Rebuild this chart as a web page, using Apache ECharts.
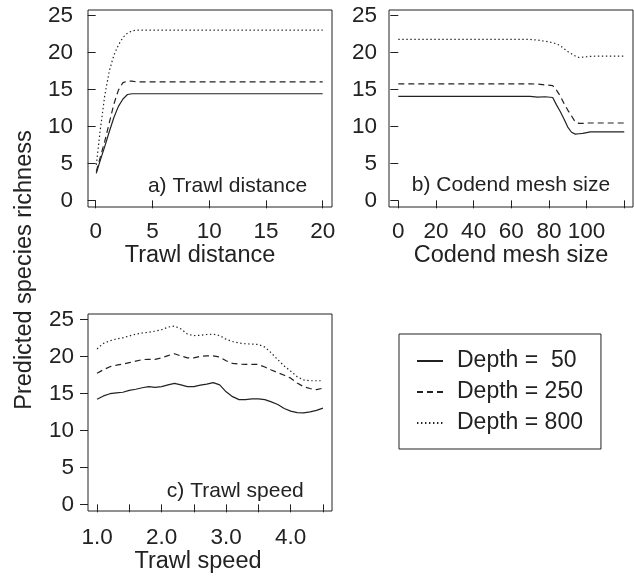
<!DOCTYPE html>
<html><head><meta charset="utf-8">
<script src="https://cdn.jsdelivr.net/npm/echarts@6/dist/echarts.min.js"></script>
<style>html,body{margin:0;padding:0;background:#fff}#c{width:634px;height:584px}</style>
</head><body><div id="c"></div>
<script>
// ---- data ----
const depthNames = ['Depth =  50', 'Depth = 250', 'Depth = 800'];

// a) Trawl distance
const distX    = [0.05, 0.4, 0.8, 1.2, 1.6, 2.0, 2.4, 2.8, 3.2, 3.6, 4.0, 20];
const dist50   = [3.65, 5.4, 7.3, 9.3, 11.2, 12.7, 13.7, 14.3, 14.4, 14.4, 14.4, 14.4];
const dist250  = [3.9, 5.8, 8.0, 10.5, 13.0, 14.9, 15.9, 16.1, 16.1, 16.0, 16.0, 16.0];
const dist800  = [4.8, 9.5, 14.2, 17.5, 19.6, 21.0, 22.0, 22.6, 22.9, 23.0, 23.0, 23.0];

// b) Codend mesh size
const meshX    = [0, 20, 40, 60, 70, 74, 78, 82, 84, 86, 88, 90, 92, 94, 96, 98, 100, 102, 106, 110, 120];
const mesh50   = [14.05, 14.05, 14.05, 14.05, 14.05, 13.95, 14.0, 13.9, 12.9, 12.0, 11.0, 9.9, 9.2, 8.95, 9.0, 9.05, 9.15, 9.25, 9.25, 9.25, 9.25];
const mesh250  = [15.75, 15.75, 15.75, 15.75, 15.75, 15.7, 15.6, 15.5, 14.9, 14.1, 13.1, 12.2, 11.4, 10.6, 10.4, 10.4, 10.45, 10.45, 10.45, 10.45, 10.45];
const mesh800  = [21.75, 21.75, 21.75, 21.75, 21.75, 21.65, 21.5, 21.3, 21.15, 20.9, 20.5, 20.1, 19.8, 19.5, 19.3, 19.35, 19.4, 19.45, 19.5, 19.5, 19.5];

// c) Trawl speed
const speedX   = [1.0, 1.1, 1.2, 1.3, 1.4, 1.5, 1.6, 1.7, 1.8, 1.9, 2.0, 2.1, 2.2, 2.3, 2.4, 2.5, 2.6, 2.7, 2.8, 2.9, 3.0, 3.1, 3.2, 3.3, 3.4, 3.5, 3.6, 3.7, 3.8, 3.9, 4.0, 4.1, 4.2, 4.3, 4.4, 4.5];
const speed50  = [14.2, 14.65, 14.95, 15.05, 15.15, 15.4, 15.55, 15.75, 15.9, 15.8, 15.9, 16.15, 16.35, 16.15, 15.9, 15.9, 16.1, 16.25, 16.45, 16.15, 15.2, 14.55, 14.15, 14.15, 14.25, 14.25, 14.15, 13.85, 13.5, 12.95, 12.6, 12.4, 12.35, 12.5, 12.7, 13.0];
const speed250 = [17.7, 18.2, 18.6, 18.8, 18.95, 19.15, 19.35, 19.55, 19.6, 19.6, 19.8, 20.1, 20.35, 20.05, 19.8, 19.8, 20.0, 20.05, 20.05, 19.9, 19.4, 19.05, 18.95, 18.9, 18.9, 18.9, 18.55, 18.15, 17.8, 17.45, 17.05, 16.4, 15.9, 15.65, 15.5, 15.7];
const speed800 = [21.0, 21.75, 22.1, 22.35, 22.5, 22.75, 23.0, 23.15, 23.25, 23.4, 23.6, 23.95, 24.1, 23.7, 23.0, 22.8, 22.85, 22.95, 23.0, 22.8, 22.3, 22.0, 21.8, 21.7, 21.65, 21.6, 21.25, 20.45, 19.55, 18.7, 18.0, 17.25, 16.8, 16.7, 16.7, 16.7];

// ticks
const yTicks      = [0, 5, 10, 15, 20, 25];
const distTicks   = [0, 5, 10, 15, 20];
const meshTicks   = [0, 20, 40, 60, 80, 100, 120];
const meshLabels  = [0, 20, 40, 60, 80, 100];
const speedTicks  = [1.0, 1.5, 2.0, 2.5, 3.0, 3.5, 4.0, 4.5];
const speedLabels = [1.0, 2.0, 3.0, 4.0];

// ---- chart ----
const FONT = "'Liberation Sans', Arial, Helvetica, sans-serif";
const INK = '#222';
const lineTypes = ['solid', [6, 4], [1.4, 2.6]];

function pairs(xs, ys) { return xs.map((x, i) => [x, ys[i]]); }

function xAx(idx, min, max, ticks, labels, name, margin, nameGap, namePad, fmt) {
  return {
    gridIndex: idx, type: 'value', min: min, max: max,
    axisLine: { show: false },
    splitLine: { show: false },
    axisTick: { show: true, length: 8, inside: false, customValues: ticks, lineStyle: { color: INK, width: 1 } },
    axisLabel: { customValues: labels, margin: margin, color: INK, fontSize: 22.5, fontFamily: FONT,
      formatter: fmt || (v => String(v)) },
    name: name, nameLocation: 'middle', nameGap: nameGap,
    nameTextStyle: { color: INK, fontSize: 23.5, fontFamily: FONT, padding: namePad }
  };
}
function yAx(idx, margin) {
  return {
    gridIndex: idx, type: 'value', min: -0.9, max: 25.72,
    axisLine: { show: false },
    splitLine: { show: false },
    axisTick: { show: true, length: 8, customValues: yTicks, lineStyle: { color: INK, width: 1 } },
    axisLabel: { customValues: yTicks, margin: margin, color: INK, fontSize: 22.5, fontFamily: FONT }
  };
}

const gridBase = { show: true, borderColor: INK, borderWidth: 1, backgroundColor: 'transparent', containLabel: false };

const panels = [
  { xs: distX, ys: [dist50, dist250, dist800] },
  { xs: meshX, ys: [mesh50, mesh250, mesh800] },
  { xs: speedX, ys: [speed50, speed250, speed800] }
];
const series = [];
panels.forEach((p, pi) => {
  p.ys.forEach((ys, di) => {
    series.push({
      type: 'line', name: depthNames[di], xAxisIndex: pi, yAxisIndex: pi,
      data: pairs(p.xs, ys), symbol: 'none', showSymbol: false, smooth: false,
      lineStyle: { color: INK, width: 1.2, type: lineTypes[di], cap: 'butt' },
      itemStyle: { color: INK },
      emphasis: { disabled: true }
    });
  });
});

const chart = echarts.init(document.getElementById('c'), null, { renderer: 'canvas' });
chart.setOption({
  animation: false,
  backgroundColor: '#fff',
  textStyle: { fontFamily: FONT },
  grid: [
    Object.assign({ left: 88, top: 10, width: 244, height: 197 }, gridBase),
    Object.assign({ left: 389, top: 10, width: 244, height: 197 }, gridBase),
    Object.assign({ left: 88, top: 314, width: 244, height: 197 }, gridBase)
  ],
  xAxis: [
    xAx(0, -0.68, 20.82, distTicks, distTicks, 'Trawl distance', 13, 37, [0, 20, 0, 0]),
    xAx(1, -4.95, 124.65, meshTicks, meshLabels, 'Codend mesh size', 13, 37, [0, 0, 0, 0]),
    xAx(2, 0.86, 4.64, speedTicks, speedLabels, 'Trawl speed', 15, 34, [0, 24, 0, 0], v => v.toFixed(1))
  ],
  yAxis: [yAx(0, 15), yAx(1, 12), yAx(2, 14)],
  legend: {
    orient: 'vertical', left: 399, top: 334,
    padding: [15, 18, 14, 17],
    itemWidth: 26, itemHeight: 14, itemGap: 7,
    borderColor: INK, borderWidth: 1, borderRadius: 0,
    data: depthNames,
    itemStyle: { opacity: 0, borderWidth: 0 },
    textStyle: { color: INK, fontSize: 23, fontFamily: FONT, lineHeight: 24, padding: [0, 0, 0, 9] },
    selectedMode: false
  },
  graphic: [
    { type: 'text', x: 25, y: 270, rotation: Math.PI / 2,
      style: { text: 'Predicted species richness', fill: INK, font: '23.5px ' + FONT, textAlign: 'center', textVerticalAlign: 'middle' } },
    { type: 'text', x: 227.5, y: 186.7,
      style: { text: 'a) Trawl distance', fill: INK, font: '21px ' + FONT, textAlign: 'center', textVerticalAlign: 'middle' } },
    { type: 'text', x: 511, y: 185.3,
      style: { text: 'b) Codend mesh size', fill: INK, font: '21px ' + FONT, textAlign: 'center', textVerticalAlign: 'middle' } },
    { type: 'text', x: 235.3, y: 491.2,
      style: { text: 'c) Trawl speed', fill: INK, font: '21px ' + FONT, textAlign: 'center', textVerticalAlign: 'middle' } }
  ],
  series: series
});
</script>
</body></html>
